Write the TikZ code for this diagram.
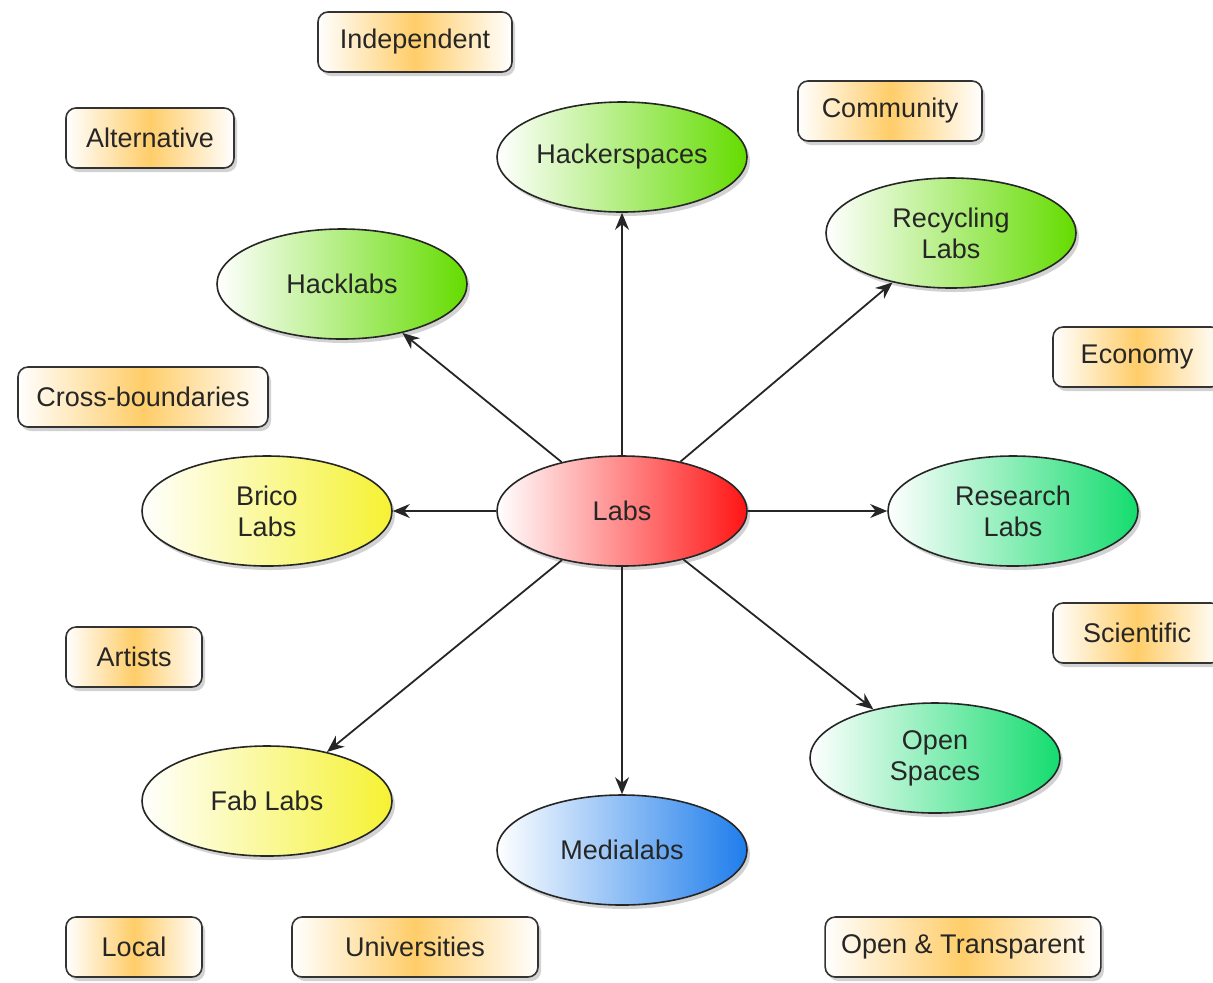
\documentclass[tikz,border=0pt]{standalone}
\usepackage{fontspec}
\setmainfont{Liberation Sans}
\usetikzlibrary{arrows.meta, shapes.geometric, shadows}

\definecolor{labred}{RGB}{255,20,20}
\definecolor{labgreen}{RGB}{100,220,0}
\definecolor{labyellow}{RGB}{245,242,50}
\definecolor{labmint}{RGB}{20,220,110}
\definecolor{labblue}{RGB}{30,125,235}
\definecolor{tagorange}{RGB}{255,205,105}

\tikzset{
    lab/.style={ellipse, draw=black!85, line width=0.8pt, minimum width=125pt,
        minimum height=55pt, inner sep=0pt, align=center, text=black!85,
        font=\fontsize{13.5}{15.5}\selectfont, left color=white, right color=#1,
        drop shadow={shadow xshift=1.5pt, shadow yshift=-2pt, opacity=0.35}},
    tag/.style={rectangle, rounded corners=5pt, draw=black!80, line width=0.8pt,
        minimum height=30pt, inner xsep=8pt, text=black!85,
        font=\fontsize{13.5}{15.5}\selectfont,
        left color=white, right color=white, middle color=tagorange,
        drop shadow={shadow xshift=1.5pt, shadow yshift=-2pt, opacity=0.35}},
    link/.style={-{Stealth[length=8.5pt, width=7pt]}, line width=0.9pt, draw=black!85}
}

\begin{document}
\begin{tikzpicture}[x=0.5pt, y=-0.5pt]
    \useasboundingbox (0,0) rectangle (1213,982);
    \fill[white] (0,0) rectangle (1213,982);

    % labs
    \node[lab=labred]    (labs)     at (622,511) {Labs};
    \node[lab=labgreen]  (hackers)  at (622,157) {Hackerspaces};
    \node[lab=labgreen]  (hacklabs) at (342,284) {Hacklabs};
    \node[lab=labgreen]  (recycle)  at (951,233) {Recycling\\Labs};
    \node[lab=labyellow] (brico)    at (267,511) {Brico\\Labs};
    \node[lab=labmint]   (research) at (1013,511) {Research\\Labs};
    \node[lab=labmint]   (open)     at (935,758) {Open\\Spaces};
    \node[lab=labblue]   (media)    at (622,850) {Medialabs};
    \node[lab=labyellow] (fab)      at (267,801) {Fab Labs};

    % tags
    \node[tag, minimum width=97pt]  (indep)   at (415,42)  {Independent};
    \node[tag, minimum width=92pt]  (commun)  at (890,111) {Community};
    \node[tag, minimum width=84pt]  (altern)  at (150,138) {Alternative};
    \node[tag, minimum width=84pt]  (econ)    at (1137,357) {Economy};
    \node[tag, minimum width=125pt] (cross)   at (143,397) {Cross-boundaries};
    \node[tag, minimum width=84pt]  (sci)     at (1137,633) {Scientific};
    \node[tag, minimum width=68pt]  (artists) at (134,657) {Artists};
    \node[tag, minimum width=68pt]  (local)   at (134,947) {Local};
    \node[tag, minimum width=123pt] (univ)    at (415,947) {Universities};
    \node[tag, minimum width=135pt] (transp)  at (963,947) {Open \& Transparent};

    \foreach \t in {hackers, hacklabs, recycle, brico, research, open, media, fab}
        \draw[link] (labs) -- (\t);
\end{tikzpicture}
\end{document}
